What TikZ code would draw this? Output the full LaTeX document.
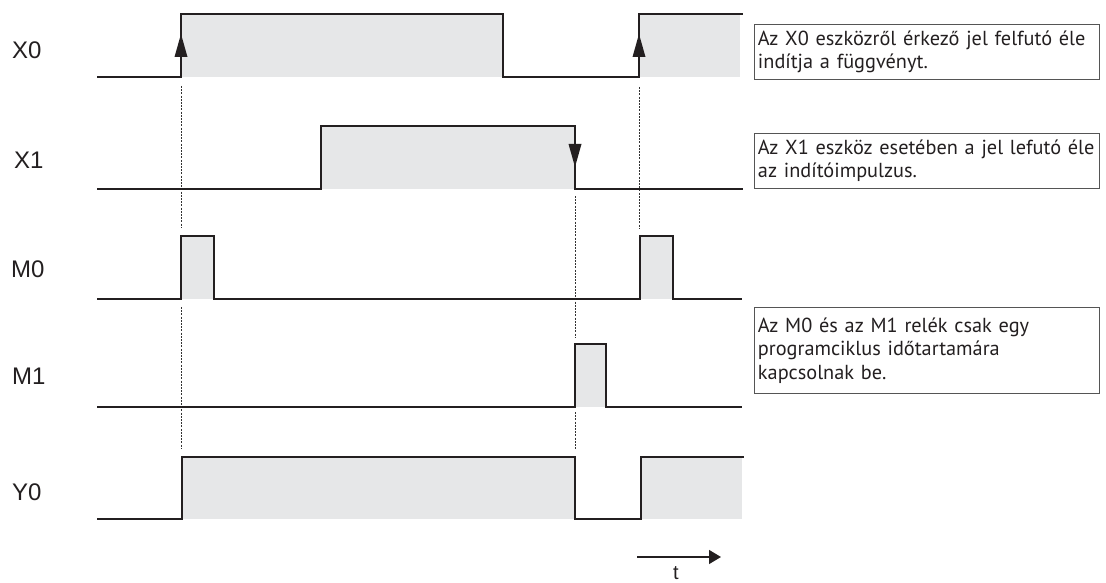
\documentclass[tikz,border=0pt]{standalone}
\usepackage{fontspec}
\setmainfont{Liberation Sans}
\newfontfamily\boxfont{PT Sans}
\usetikzlibrary{arrows.meta}
\definecolor{fillgray}{HTML}{E6E7E8}
\definecolor{textc}{HTML}{231F20}
\definecolor{boxgray}{HTML}{555555}
\begin{document}
\begin{tikzpicture}[x=1pt,y=-1pt,
  sig/.style={line width=1.8pt, draw=textc, line join=miter},
  guide/.style={draw=black!80, line width=0.7pt, dash pattern=on 2pt off 1.2pt},
  lbl/.style={anchor=west, inner sep=0pt, font=\fontsize{24}{24}\selectfont, text=textc},
  note/.style={draw=boxgray, line width=0.9pt, anchor=north west, text width=338pt,
    inner xsep=3.5pt, inner ysep=0pt, align=left,
    font=\boxfont\fontsize{20.3}{23.5}\selectfont, text=textc},
  edgetip/.style={fill=textc}
]
\useasboundingbox (0,0) rectangle (1106,583);

% gray fills
\fill[fillgray] (181,14) rectangle (503,77);
\fill[fillgray] (639,14) rectangle (740,77);
\fill[fillgray] (321,126) rectangle (575,189);
\fill[fillgray] (181,236) rectangle (214,299);
\fill[fillgray] (640,236) rectangle (673,299);
\fill[fillgray] (575,344) rectangle (606,407);
\fill[fillgray] (182,457) rectangle (575,519);
\fill[fillgray] (641,457) rectangle (742,519);

% dashed guides
\draw[guide] (181,86) -- (181,228);
\draw[guide] (181,307) -- (181,448);
\draw[guide] (639,87) -- (639,228);
\draw[guide] (575,196) -- (575,337);
\draw[guide] (575,412) -- (575,449);

% signals
\draw[sig] (97,77) -- (181,77) -- (181,14) -- (503,14) -- (503,77) -- (639,77) -- (639,14) -- (743,14);
\draw[sig] (97,189) -- (321,189) -- (321,126) -- (575,126) -- (575,189) -- (743,189);
\draw[sig] (97,299) -- (181,299) -- (181,236) -- (214,236) -- (214,299) -- (640,299) -- (640,236) -- (673,236) -- (673,299) -- (742,299);
\draw[sig] (97,407) -- (575,407) -- (575,344) -- (606,344) -- (606,407) -- (742,407);
\draw[sig] (97,519) -- (182,519) -- (182,457) -- (575,457) -- (575,519) -- (641,519) -- (641,457) -- (744,457);

% edge arrows
\fill[edgetip] (181,34) -- (174.5,57) -- (187.5,57) -- cycle;
\fill[edgetip] (639,34) -- (632.5,57) -- (645.5,57) -- cycle;
\fill[edgetip] (575,167) -- (568.5,144) -- (581.5,144) -- cycle;

% labels
\node[lbl] (lX0) at (12,50) {X0};
\node[lbl] (lX1) at (14,160) {X1};
\node[lbl] (lM0) at (11,269) {M0};
\node[lbl] (lM1) at (12,376) {M1};
\node[lbl] (lY0) at (12,492) {Y0};

% notes
\node[note, minimum height=55pt] (n1) at (754,24) {\mbox{Az X0 eszközről érkező jel felfutó éle}\\indítja a függvényt.};
\node[note, minimum height=55pt] (n2) at (754,133) {\mbox{Az X1 eszköz esetében a jel lefutó éle}\\az indítóimpulzus.};
\node[note, minimum height=86pt] (n3) at (754,307) {Az M0 és az M1 relék csak egy\\programciklus időtartamára\\kapcsolnak be.};

% time arrow
\coordinate (ta) at (637,557);
\coordinate (tb) at (721,557);
\draw[line width=1.3pt, draw=textc, -{Triangle[length=12pt,width=14pt]}] (ta) -- (tb);
\node[inner sep=0pt, anchor=south, text=textc, font=\fontsize{20}{20}\selectfont] (tlab) at (676,580) {t};
\end{tikzpicture}
\end{document}
